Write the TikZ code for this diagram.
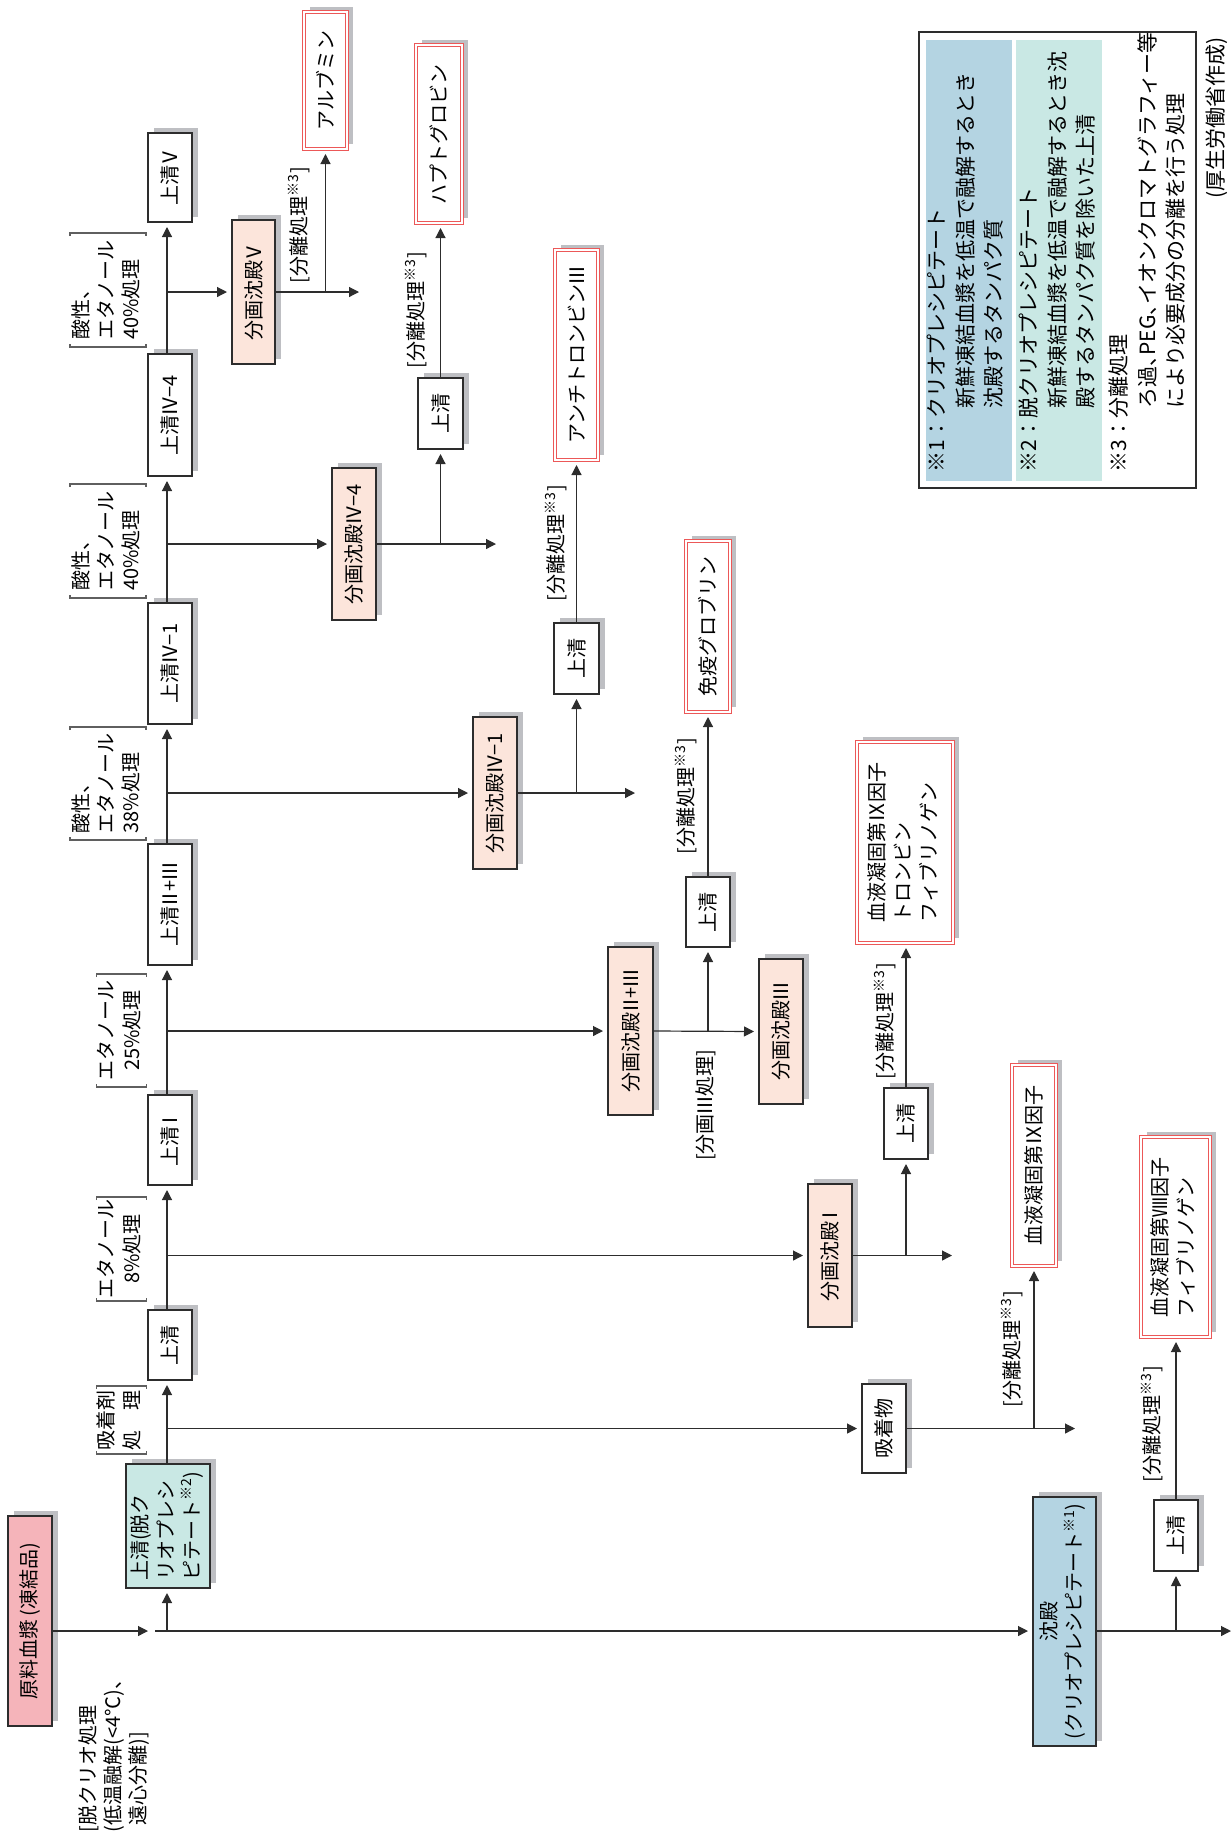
\documentclass[tikz,border=0pt]{standalone}
\usepackage{fontspec}
\setmainfont{Noto Sans CJK JP}
\usepackage{graphicx}
\usetikzlibrary{arrows.meta,shadows}
\definecolor{lnc}{RGB}{45,45,45}
\definecolor{shd}{RGB}{190,191,195}
\definecolor{cpeach}{RGB}{252,229,219}
\definecolor{cpink}{RGB}{245,180,186}
\definecolor{cteal}{RGB}{201,232,228}
\definecolor{cblue}{RGB}{180,212,226}
\definecolor{pred}{RGB}{236,88,88}
\definecolor{brkc}{RGB}{95,95,95}
\tikzset{
  base/.style={inner sep=0pt, outer sep=0pt, line width=0.6pt, draw=lnc, text=black},
  shad/.style={drop shadow={shadow xshift=2.75pt, shadow yshift=2.75pt, fill=shd, opacity=1}},
  wbox/.style={base, fill=white, shad},
  pbox/.style={base, fill=cpeach, shad},
  tbox/.style={base, fill=cteal, shad},
  bbox/.style={base, fill=cblue, shad},
  rbox/.style={base, fill=cpink, shad},
  prod/.style={base, draw=pred, double=white, double distance=1.3pt, line width=0.5pt, fill=white, shad},
  arrx/.style={draw=lnc, line width=0.6pt, -{Triangle[length=5pt,width=5pt]}},
  arr/.style={arrx, shorten >=2.5pt},
  brkt/.style={draw=brkc, line width=0.6pt},
  lab/.style={inner sep=0pt, outer sep=0pt, text=black},
  every node/.style={font=\fontsize{10}{13}\selectfont}
}
\newcommand{\mkbox}[7]{\node[#2, minimum width={(#5-#3)*0.5pt}, minimum height={(#6-#4)*0.5pt}] (#1) at ({(#3+#5)/2},{(#4+#6)/2}) {\rotatebox{90}{#7}};}
\newcommand{\mklab}[6]{%
  \node[lab, minimum width={(#4-#2)*0.5pt}, minimum height={(#5-#3)*0.5pt}] (#1) at ({(#2+#4)/2},{(#3+#5)/2}) {\rotatebox{90}{\fontsize{10}{12.5}\selectfont #6}};
  \draw[brkt] ([yshift=1.5pt]#1.south west) -- (#1.south west) -- (#1.south east) -- ([yshift=1.5pt]#1.south east);
  \draw[brkt] ([yshift=-1.5pt]#1.north west) -- (#1.north west) -- (#1.north east) -- ([yshift=-1.5pt]#1.north east);
}
\newcommand{\nc}{\makebox[0.5em][l]{、}}
\newcommand{\RN}[2][0.72em]{\makebox[#1][c]{#2}}
\begin{document}
\begin{tikzpicture}[x=0.5pt,y=-0.5pt]
\useasboundingbox (0,0) rectangle (1232,1843);

% ---------- legend ----------
\node[base, draw=lnc, line width=0.6pt, minimum width=138.5pt, minimum height=228pt] (legend) at (1057.5,260) {};
\node[base, draw=none, fill=cblue, minimum width=43pt, minimum height=220.5pt] (band1) at (969,260.5) {};
\node[base, draw=none, fill=cteal, minimum width=43pt, minimum height=220.5pt] (band2) at (1059,260.5) {};
\node[lab, anchor=south west] (note1) at (925,472) {\rotatebox{90}{\fontsize{10.5}{14.25}\selectfont\begin{tabular}{@{}l@{}}※1：クリオプレシピテート\\\hspace*{32pt}新鮮凍結血漿を低温で融解するとき\\\hspace*{32pt}沈殿するタンパク質\end{tabular}}};
\node[lab, anchor=south west] (note2) at (1017,472) {\rotatebox{90}{\fontsize{10.5}{14.25}\selectfont\begin{tabular}{@{}l@{}}※2：脱クリオプレシピテート\\\hspace*{32pt}新鮮凍結血漿を低温で融解するとき沈\\\hspace*{32pt}殿するタンパク質を除いた上清\end{tabular}}};
\node[lab, anchor=south west] (note3) at (1107,472) {\rotatebox{90}{\fontsize{10.5}{14.25}\selectfont\begin{tabular}{@{}l@{}}※3：分離処理\\\hspace*{32pt}ろ過\nc PEG\nc イオンクロマトグラフィー等\\\hspace*{32pt}により必要成分の分離を行う処理\end{tabular}}};
\node[lab] (source) at (1217,118) {\rotatebox{90}{\fontsize{10.5}{13}\selectfont (厚生労働省作成)}};

% ---------- main column ----------
\mkbox{raw}{rbox}{8}{1516}{52}{1726}{原料血漿\,(凍結品)}
\mkbox{sc}{tbox}{126}{1464}{210}{1588}{\begin{tabular}{@{}l@{}}上清(脱ク\\リオプレシ\\ピテート\textsuperscript{※2})\end{tabular}}
\mkbox{s0}{wbox}{148}{1310}{192}{1380}{上清}
\mkbox{s1}{wbox}{148}{1095}{192}{1185}{上清\RN[0.6em]{Ⅰ}}
\mkbox{s2}{wbox}{148}{844}{192}{965}{上清\RN{Ⅱ}+\RN[0.9em]{Ⅲ}}
\mkbox{s3}{wbox}{148}{603}{192}{724}{上清\RN[0.9em]{Ⅳ}−1}
\mkbox{s4}{wbox}{148}{354}{192}{476}{上清\RN[0.9em]{Ⅳ}−4}
\mkbox{s5}{wbox}{148}{133}{192}{222}{上清\RN[0.8em]{Ⅴ}}

% ---------- fractions ----------
\mkbox{F5}{pbox}{232}{220}{275}{364}{分画沈殿\RN[0.8em]{Ⅴ}}
\mkbox{F44}{pbox}{332}{468}{376}{620}{分画沈殿\RN[0.9em]{Ⅳ}−4}
\mkbox{F41}{pbox}{473}{717}{517}{869}{分画沈殿\RN[0.9em]{Ⅳ}−1}
\mkbox{F23}{pbox}{608}{947}{653}{1115}{分画沈殿\RN{Ⅱ}+\RN[0.9em]{Ⅲ}}
\mkbox{F3}{pbox}{759}{959}{803}{1104}{分画沈殿\RN[0.9em]{Ⅲ}}
\mkbox{FI}{pbox}{808}{1184}{852}{1327}{分画沈殿\RN[0.6em]{Ⅰ}}
\mkbox{ads}{wbox}{862}{1384}{906}{1473}{吸着物}
\mkbox{cryo}{bbox}{1033}{1497}{1096}{1746}{\fontsize{10}{12}\selectfont\begin{tabular}{@{}c@{}}沈殿\\(クリオプレシピテート\textsuperscript{※1})\end{tabular}}

% ---------- supernatants ----------
\mkbox{F44sup}{wbox}{418}{378}{463}{449}{上清}
\mkbox{F41sup}{wbox}{554}{623}{599}{694}{上清}
\mkbox{F23sup}{wbox}{686}{877}{730}{947}{上清}
\mkbox{FIsup}{wbox}{884}{1088}{928}{1159}{上清}
\mkbox{cryoSup}{wbox}{1154}{1500}{1198}{1571}{上清}

% ---------- products ----------
\mkbox{AL}{prod}{304}{12}{347}{149}{アルブミン}
\mkbox{HP}{prod}{416}{45}{462}{223}{ハプトグロビン}
\mkbox{AT}{prod}{555}{250}{598}{460}{アンチトロンビン\RN[0.9em]{Ⅲ}}
\mkbox{IG}{prod}{686}{541}{730}{712}{免疫グロブリン}
\mkbox{PCC}{prod}{857}{742}{953}{943}{\begin{tabular}{@{}l@{}}血液凝固第Ⅸ因子\\トロンビン\\フィブリノゲン\end{tabular}}
\mkbox{F9}{prod}{1012}{1065}{1056}{1266}{血液凝固第Ⅸ因子}
\mkbox{F8}{prod}{1141}{1137}{1210}{1337}{\begin{tabular}{@{}l@{}}血液凝固第Ⅷ因子\\フィブリノゲン\end{tabular}}

% ---------- bracket labels ----------
\node[lab, anchor=south west] (lab1) at (78,1832) {\rotatebox{90}{\fontsize{10}{12.5}\selectfont\begin{tabular}{@{}l@{}}[脱クリオ処理\\(低温融解(<4℃)、\\\hphantom{(}遠心分離)]\end{tabular}}};
\mklab{lab2}{97}{1386}{146}{1454}{\begin{tabular}{@{}l@{}}吸着剤\\処\hspace{1em}理\end{tabular}}
\mklab{lab3}{97}{1197}{146}{1301}{\begin{tabular}{@{}c@{}}エタノール\\8\%処理\end{tabular}}
\mklab{lab4}{97}{974}{146}{1087}{\begin{tabular}{@{}c@{}}エタノール\\25\%処理\end{tabular}}
\mklab{lab5}{70}{727}{146}{840}{\begin{tabular}{@{}l@{}}酸性、\\エタノール\\38\%処理\end{tabular}}
\mklab{lab6}{70}{484}{146}{598}{\begin{tabular}{@{}l@{}}酸性、\\エタノール\\40\%処理\end{tabular}}
\mklab{lab7}{70}{233}{146}{347}{\begin{tabular}{@{}l@{}}酸性、\\エタノール\\40\%処理\end{tabular}}

\node[lab] (sepA) at (299,225) {\rotatebox{90}{[分離処理\textsuperscript{※3}]}};
\node[lab] (sepB) at (416,310) {\rotatebox{90}{[分離処理\textsuperscript{※3}]}};
\node[lab] (sepC) at (556,543) {\rotatebox{90}{[分離処理\textsuperscript{※3}]}};
\node[lab] (sepD) at (686,796) {\rotatebox{90}{[分離処理\textsuperscript{※3}]}};
\node[lab] (sepE) at (885,1021) {\rotatebox{90}{[分離処理\textsuperscript{※3}]}};
\node[lab] (sepF) at (1012,1349) {\rotatebox{90}{[分離処理\textsuperscript{※3}]}};
\node[lab] (sepG) at (1152,1424) {\rotatebox{90}{[分離処理\textsuperscript{※3}]}};
\node[lab] (sepH) at (706,1105) {\rotatebox{90}{[分画\RN[0.9em]{Ⅲ}処理]}};

% ---------- connectors ----------
\coordinate (sp) at (167,0);
\coordinate (m0) at (155,1631);
\coordinate (rawtip) at (148,1631);
\draw[arrx] (raw.east |- m0) -- (rawtip);
\draw[arr] (m0) -- (cryo.west |- m0);
\draw[arr] (m0 -| sp) -- (sc.south -| sp);
\draw[arr] (sc.north -| sp) -- (s0.south -| sp);
\draw[arr] (s0.north -| sp) -- (s1.south -| sp);
\draw[arr] (s1.north -| sp) -- (s2.south -| sp);
\draw[arr] (s2.north -| sp) -- (s3.south -| sp);
\draw[arr] (s3.north -| sp) -- (s4.south -| sp);
\draw[arr] (s4.north -| sp) -- (s5.south -| sp);

\draw[arr] (sp |- ads.west) -- (ads.west);
\draw[arr] (sp |- FI.west) -- (FI.west);
\draw[arr] (sp |- F23.west) -- (F23.west);
\draw[arr] (sp |- F41.west) -- (F41.west);
\draw[arr] (sp |- F44.west) -- (F44.west);
\draw[arr] (sp |- F5.west) -- (F5.west);

% fraction V
\coordinate (e5) at (359,0);
\draw[arrx] (F5.east) -- (F5.east -| e5);
\draw[arr] (AL.south |- F5.east) -- (AL.south);
% fraction IV-4
\coordinate (e44) at (496,0);
\draw[arrx] (F44.east) -- (F44.east -| e44);
\draw[arr] (F44sup.south |- F44.east) -- (F44sup.south);
\draw[arr] (F44sup.north) -- (F44sup.north |- HP.south);
% fraction IV-1
\coordinate (e41) at (635,0);
\draw[arrx] (F41.east) -- (F41.east -| e41);
\draw[arr] (F41sup.south |- F41.east) -- (F41sup.south);
\draw[arr] (F41sup.north) -- (F41sup.north |- AT.south);
% fraction II+III
\draw[arr] (F23.east) -- (F3.west);
\draw[arr] (F23sup.south |- F23.east) -- (F23sup.south);
\draw[arr] (F23sup.north) -- (F23sup.north |- IG.south);
% fraction I
\coordinate (eI) at (952,0);
\draw[arrx] (FI.east) -- (FI.east -| eI);
\draw[arr] (FIsup.south |- FI.east) -- (FIsup.south);
\draw[arr] (FIsup.north) -- (FIsup.north |- PCC.south);
% adsorbate
\coordinate (eA) at (1075,0);
\draw[arrx] (ads.east) -- (ads.east -| eA);
\draw[arr] (F9.south |- ads.east) -- (F9.south);
% cryoprecipitate
\coordinate (e8) at (1231,0);
\draw[arrx] (cryo.east |- m0) -- (m0 -| e8);
\draw[arr] (cryoSup.south |- m0) -- (cryoSup.south);
\draw[arr] (cryoSup.north) -- (cryoSup.north |- F8.south);
\end{tikzpicture}
\end{document}
